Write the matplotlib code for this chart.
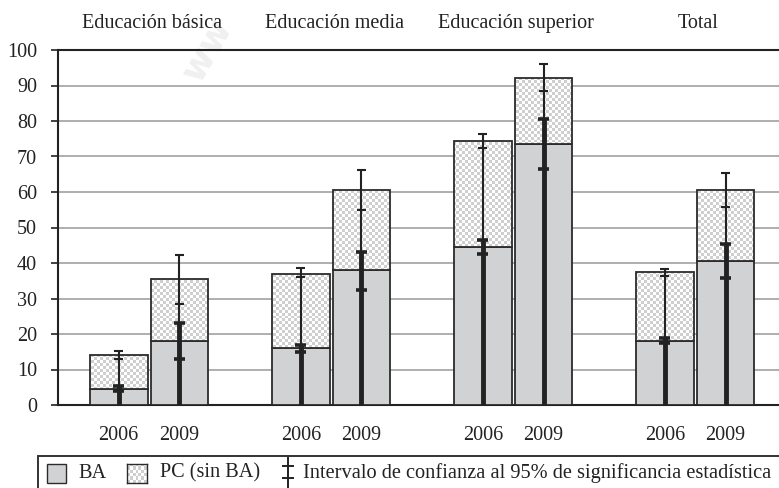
import numpy as np
import matplotlib
matplotlib.use("Agg")
import matplotlib.pyplot as plt
from matplotlib.path import Path
from matplotlib.lines import Line2D
from matplotlib.patches import Rectangle

plt.rcParams['font.family'] = ['Liberation Serif', 'DejaVu Serif']

groups = ["Educación básica", "Educación media", "Educación superior", "Total"]
years = ["2006", "2009"]
# per bar: básica 2006, básica 2009, media 2006, media 2009, superior 2006, superior 2009, total 2006, total 2009
ba = [4.5, 18.0, 16.0, 38.0, 44.5, 73.5, 18.0, 40.5]
total = [14.0, 35.5, 37.0, 60.5, 74.5, 92.0, 37.5, 60.6]
ba_lo = [4.0, 13.0, 15.0, 32.5, 42.5, 66.5, 17.6, 35.7]
ba_hi = [5.3, 23.0, 17.0, 43.0, 46.5, 80.5, 19.0, 45.4]
tot_lo = [13.0, 28.5, 36.0, 55.0, 72.5, 88.5, 36.4, 55.7]
tot_hi = [15.2, 42.3, 38.5, 66.2, 76.2, 96.0, 38.2, 65.4]
yticks = list(range(0, 101, 10))

W, H = 779, 488
fig = plt.figure(figsize=(W / 100, H / 100), dpi=100)
ax = fig.add_axes([58 / W, 1 - 405 / H, 1 - 58 / W, (405 - 50) / H])
ax.patch.set_alpha(0)

xpos = []
for g in range(len(groups)):
    xpos += [3 * g, 3 * g + 1]
xpos = np.array(xpos, dtype=float)
pc = np.array(total) - np.array(ba)

edge = '#2b2b2b'
ax.bar(xpos, ba, width=0.95, color='#d1d2d4', edgecolor=edge, linewidth=1.3, zorder=3)
pc_bars = ax.bar(xpos, pc, bottom=ba, width=0.95, facecolor='none', edgecolor=edge,
                 linewidth=1.3, zorder=3.2)

xl = (-1.0, 10.88)
ax.set_xlim(*xl)
ax.set_ylim(0, 100)

# checkered texture for PC bars
rows, cols = 355 // 3 + 1, 721 // 3 + 1
checker = (np.add.outer(np.arange(rows), np.arange(cols)) % 2).astype(float)
paths = [p.get_path().transformed(p.get_patch_transform()) for p in pc_bars]
comp = Path.make_compound_path(*paths)
cmap_chk = matplotlib.colors.ListedColormap(['#ffffff', '#cfcfcf'])
im = ax.imshow(checker, cmap=cmap_chk, extent=(xl[0], xl[1], 0, 100), origin='lower',
               interpolation='nearest', aspect='auto', zorder=3.1)
im.set_clip_path(comp, ax.transData)
ax.set_xlim(*xl)
ax.set_ylim(0, 100)

# error bars
dk = '#222222'
cap_t = 0.075
cap_b = 0.09
for i, x in enumerate(xpos):
    ax.plot([x, x], [0, tot_hi[i]], color=dk, lw=1.5, zorder=4, solid_capstyle='butt')
    for yv in (tot_lo[i], tot_hi[i]):
        ax.plot([x - cap_t, x + cap_t], [yv, yv], color=dk, lw=1.5, zorder=4, solid_capstyle='butt')
    ax.plot([x, x], [0, ba_hi[i]], color=dk, lw=3.5, zorder=4.1, solid_capstyle='butt')
    for yv in (ba_lo[i], ba_hi[i]):
        ax.plot([x - cap_b, x + cap_b], [yv, yv], color=dk, lw=2.6, zorder=4.1, solid_capstyle='butt')

# axes styling
ax.set_yticks(yticks)
ax.set_yticklabels([str(v) for v in yticks], fontsize=14.5, color='#222222')
ax.tick_params(axis='y', length=5, width=1.2, pad=10, color=dk)
ax.yaxis.grid(True, color='#a8a8a8', lw=1.3)
ax.set_axisbelow(True)
ax.set_xticks(xpos)
ax.set_xticklabels(years * len(groups), fontsize=14.5, color='#222222')
ax.tick_params(axis='x', length=0, pad=15)
ax.spines['right'].set_visible(False)
for s in ('left', 'bottom', 'top'):
    ax.spines[s].set_color(dk)
    ax.spines[s].set_linewidth(1.5)

for g, name in enumerate(groups):
    ax.text(3 * g + 0.55, (405 - 23) / 355, name, transform=ax.get_xaxis_transform(),
            ha='center', va='center', fontsize=14.5, color='#222222')

# faint watermark
fig.text(176 / W, 1 - 88 / H, "ww", rotation=60, fontsize=26, color='#f0f0f0',
         fontweight='bold', family='DejaVu Sans', ha='left', va='bottom', zorder=-1)

# legend box
def fx(px):
    return px / W

def fy(py):
    return 1 - py / H

fig.add_artist(Rectangle((fx(38), fy(495)), fx(760), fy(456) - fy(495), transform=fig.transFigure,
                         facecolor='none', edgecolor='#333333', lw=1.4, clip_on=False))
fig.add_artist(Rectangle((fx(47), fy(483)), fx(19), fy(464) - fy(483), transform=fig.transFigure,
                         facecolor='#d1d2d4', edgecolor=edge, lw=1.0))
fig.text(fx(78), fy(473), "BA", fontsize=14.6, va='center', ha='left', color='#222222')
ax_chk = fig.add_axes([fx(127), fy(483), fx(20), fy(464) - fy(483)])
ax_chk.imshow((np.add.outer(np.arange(6), np.arange(7)) % 2).astype(float),
              cmap=cmap_chk, interpolation='nearest', aspect='auto')
ax_chk.set_xticks([])
ax_chk.set_yticks([])
for s in ax_chk.spines.values():
    s.set_color(edge)
    s.set_linewidth(1.0)
fig.text(fx(160), fy(473), "PC (sin BA)", fontsize=14.6, va='center', ha='left', color='#222222')
fig.add_artist(Line2D([fx(288), fx(288)], [fy(458), fy(488)], transform=fig.transFigure,
                      color=dk, lw=1.4))
for yy in (466, 478):
    fig.add_artist(Line2D([fx(283), fx(293)], [fy(yy), fy(yy)], transform=fig.transFigure,
                          color=dk, lw=1.4))
fig.text(fx(303), fy(473), "Intervalo de confianza al 95% de significancia estadística",
         fontsize=14.7, va='center', ha='left', color='#222222')

fig.savefig("out.png", dpi=100)
